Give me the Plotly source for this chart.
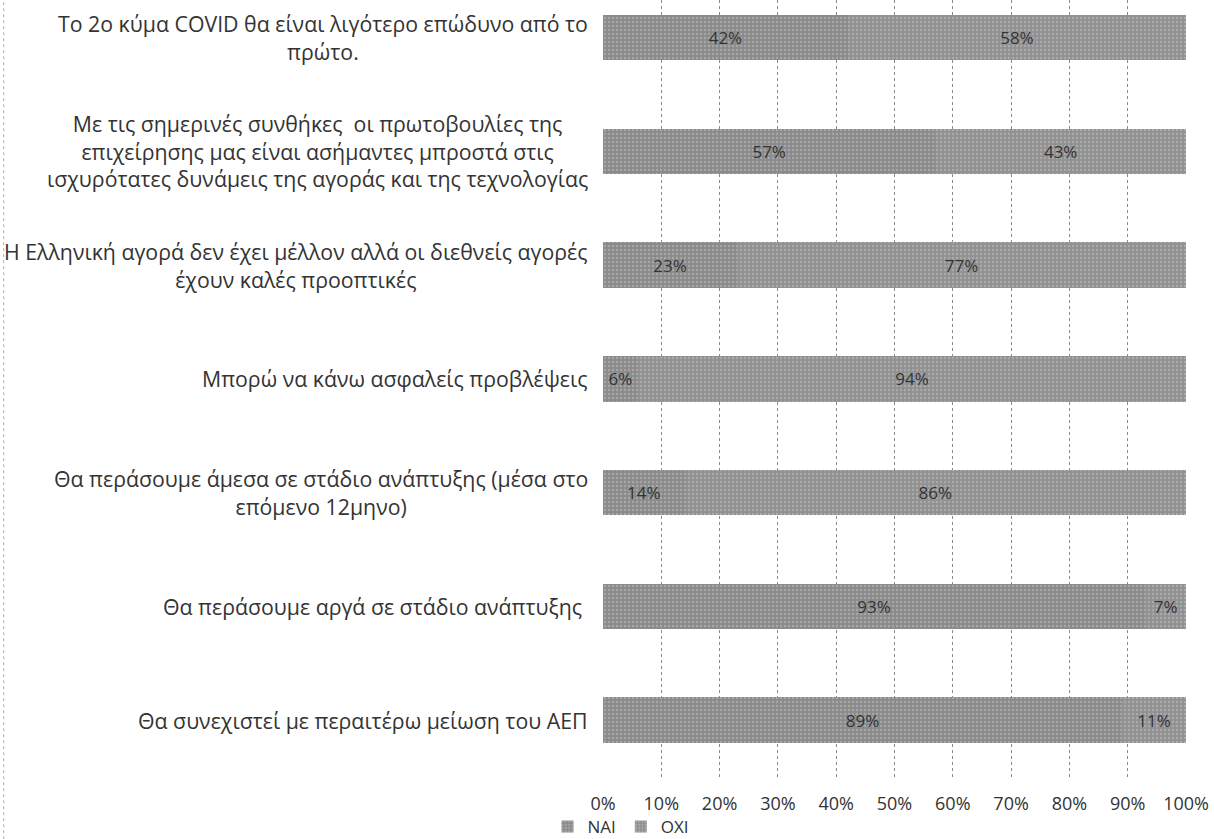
import plotly.graph_objects as go

# Survey statements (top to bottom) and answer shares in percent
statements = [
    "Το 2ο κύμα COVID θα είναι λιγότερο επώδυνο από το<br>πρώτο.",
    "Με τις σημερινές συνθήκες  οι πρωτοβουλίες της<br>επιχείρησης μας είναι ασήμαντες μπροστά στις<br>ισχυρότατες δυνάμεις της αγοράς και της τεχνολογίας",
    "Η Ελληνική αγορά δεν έχει μέλλον αλλά οι διεθνείς αγορές<br>έχουν καλές προοπτικές",
    "Μπορώ να κάνω ασφαλείς προβλέψεις",
    "Θα περάσουμε άμεσα σε στάδιο ανάπτυξης (μέσα στο<br>επόμενο 12μηνο)",
    "Θα περάσουμε αργά σε στάδιο ανάπτυξης ",
    "Θα συνεχιστεί με περαιτέρω μείωση του ΑΕΠ",
]
nai = [42, 57, 23, 6, 14, 93, 89]
oxi = [58, 43, 77, 94, 86, 7, 11]
x_ticks = [0, 10, 20, 30, 40, 50, 60, 70, 80, 90, 100]
x_tick_labels = [f"{v}%" for v in x_ticks]

positions = list(range(len(statements)))
FONT = "Open Sans, Noto Sans, DejaVu Sans, sans-serif"
TEXT = "#333333"

fig = go.Figure()
for name, vals, color in [("NAI", nai, "#8a8a8a"), ("OXI", oxi, "#909090")]:
    fig.add_trace(go.Bar(
        y=positions,
        x=vals,
        name=name,
        orientation="h",
        marker=dict(color=color, line=dict(width=0),
                    pattern=dict(shape=".", fgcolor="#c4c4c4", size=4, solidity=0.3)),
        text=[f"{v}%" for v in vals],
        textposition="inside",
        insidetextanchor="middle",
        textfont=dict(family=FONT, size=17, color=TEXT),
        cliponaxis=False,
    ))

# Statement labels, centred line by line, right-aligned against the plot
for pos, label in zip(positions, statements):
    fig.add_annotation(
        x=0, xref="paper", xshift=-13,
        y=pos, yref="y",
        text=label,
        showarrow=False,
        xanchor="right", yanchor="middle",
        align="center",
        font=dict(family=FONT, size=21.3, color=TEXT),
    )

fig.update_layout(
    barmode="stack",
    bargap=0.6,
    width=1214,
    height=839,
    margin=dict(l=603, r=28, t=0, b=62, autoexpand=False),
    paper_bgcolor="white",
    plot_bgcolor="white",
    showlegend=True,
    legend=dict(
        orientation="h",
        xref="container", x=0.451, xanchor="left",
        yref="container", y=0.0145, yanchor="middle",
        bgcolor="rgba(0,0,0,0)",
        font=dict(family=FONT, size=17, color=TEXT),
        itemwidth=30,
        traceorder="normal",
    ),
    xaxis=dict(
        range=[0, 100],
        tickvals=x_ticks,
        ticktext=x_tick_labels,
        showgrid=True,
        gridcolor="#8a8a8a",
        griddash="dot",
        gridwidth=1,
        zeroline=False,
        showline=False,
        ticks="",
        ticklabelstandoff=14,
        tickfont=dict(family=FONT, size=18, color=TEXT),
        fixedrange=True,
    ),
    yaxis=dict(
        range=[6.5, -0.33],
        showticklabels=False,
        showgrid=False,
        zeroline=False,
        showline=False,
        ticks="",
        fixedrange=True,
    ),
    shapes=[dict(type="line", xref="paper", yref="paper",
                 x0=-1.028, x1=-1.028, y0=-0.08, y1=1.0,
                 line=dict(color="#b0b0b0", width=1, dash="dot"))],
)

fig.write_html("out.html")
